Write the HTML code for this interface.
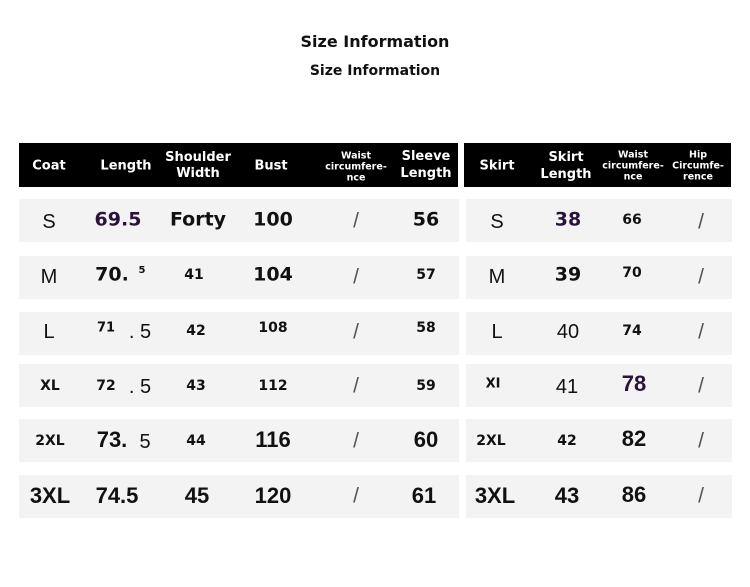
<!DOCTYPE html>
<html><head><meta charset="utf-8"><style>
body{margin:0;width:750px;height:587px;background:#fff;position:relative;overflow:hidden;font-family:"DejaVu Sans","Liberation Sans",sans-serif;}
.t{position:absolute;left:0;width:750px;text-align:center;font-weight:bold;color:#111;}
.hd{position:absolute;background:#000;top:143px;height:44px;}
.rw{position:absolute;background:#f4f3f4;height:43px;}
.c{position:absolute;transform:translate(-50%,-50%);white-space:nowrap;text-align:center;font-weight:bold;color:#111;line-height:1;}
.h{color:#fff;}
.n{font-family:"Liberation Sans Narrow","Liberation Sans",sans-serif;font-weight:normal;}
.s{font-family:"Liberation Sans",sans-serif;font-weight:normal;font-size:21px;color:#555;}
.k{font-family:"Liberation Sans Narrow","Liberation Sans",sans-serif;font-size:22px;}
.p{color:#2a1238;}
</style></head><body>
<div class="t" style="top:32px;font-size:16px">Size Information</div>
<div class="t" style="top:63px;font-size:14px">Size Information</div>
<div class="hd" style="left:19px;width:439px"></div>
<div class="hd" style="left:464px;width:267px"></div>
<div class="rw" style="left:19px;width:440px;top:199px"></div><div class="rw" style="left:466px;width:266px;top:199px"></div>
<div class="rw" style="left:19px;width:440px;top:256px"></div><div class="rw" style="left:466px;width:266px;top:256px"></div>
<div class="rw" style="left:19px;width:440px;top:312px"></div><div class="rw" style="left:466px;width:266px;top:312px"></div>
<div class="rw" style="left:19px;width:440px;top:364px"></div><div class="rw" style="left:466px;width:266px;top:364px"></div>
<div class="rw" style="left:19px;width:440px;top:419px"></div><div class="rw" style="left:466px;width:266px;top:419px"></div>
<div class="rw" style="left:19px;width:440px;top:475px"></div><div class="rw" style="left:466px;width:266px;top:475px"></div>

<div class="c h" style="left:49px;top:166px;font-size:13px">Coat</div>
<div class="c h" style="left:126px;top:166px;font-size:13px">Length</div>
<div class="c h" style="left:198px;top:166px;font-size:13px;line-height:16px">Shoulder<br>Width</div>
<div class="c h" style="left:271px;top:166px;font-size:13px">Bust</div>
<div class="c h" style="left:356px;top:167px;font-size:9.5px;line-height:11px">Waist<br>circumfere-<br>nce</div>
<div class="c h" style="left:426px;top:165px;font-size:13px;line-height:17px">Sleeve<br>Length</div>
<div class="c h" style="left:497px;top:166px;font-size:13px">Skirt</div>
<div class="c h" style="left:566px;top:166px;font-size:13px;line-height:17px">Skirt<br>Length</div>
<div class="c h" style="left:633px;top:166px;font-size:9.5px;line-height:11px">Waist<br>circumfere-<br>nce</div>
<div class="c h" style="left:698px;top:166px;font-size:9.5px;line-height:11px">Hip<br>Circumfe-<br>rence</div>

<!-- S -->
<div class="c n" style="left:49px;top:222px;font-size:20px">S</div>
<div class="c p" style="left:118px;top:220px;font-size:19px">69.5</div>
<div class="c" style="left:198px;top:220px;font-size:19px">Forty</div>
<div class="c" style="left:273px;top:220px;font-size:19px">100</div>
<div class="c s" style="left:356px;top:221px">/</div>
<div class="c" style="left:426px;top:220px;font-size:19px">56</div>
<div class="c n" style="left:497px;top:222px;font-size:20px">S</div>
<div class="c p" style="left:568px;top:220px;font-size:19px">38</div>
<div class="c" style="left:632px;top:220px;font-size:14px">66</div>
<div class="c s" style="left:701px;top:222px">/</div>
<!-- M -->
<div class="c n" style="left:49px;top:277px;font-size:20px">M</div>
<div class="c" style="left:112px;top:275px;font-size:19px">70.</div>
<div class="c" style="left:142px;top:271px;font-size:10px">5</div>
<div class="c" style="left:194px;top:275px;font-size:14px">41</div>
<div class="c" style="left:273px;top:275px;font-size:19px">104</div>
<div class="c s" style="left:356px;top:277px">/</div>
<div class="c" style="left:426px;top:275px;font-size:14px">57</div>
<div class="c n" style="left:497px;top:277px;font-size:20px">M</div>
<div class="c" style="left:568px;top:275px;font-size:19px">39</div>
<div class="c" style="left:632px;top:273px;font-size:14px">70</div>
<div class="c s" style="left:701px;top:277px">/</div>
<!-- L -->
<div class="c n" style="left:49px;top:332px;font-size:20px">L</div>
<div class="c" style="left:106px;top:328px;font-size:13px">71</div>
<div class="c n" style="left:140px;top:332px;font-size:20px">. 5</div>
<div class="c" style="left:196px;top:331px;font-size:14px">42</div>
<div class="c" style="left:273px;top:328px;font-size:14px">108</div>
<div class="c s" style="left:356px;top:332px">/</div>
<div class="c" style="left:426px;top:328px;font-size:14px">58</div>
<div class="c n" style="left:497px;top:332px;font-size:20px">L</div>
<div class="c n" style="left:568px;top:332px;font-size:20px">40</div>
<div class="c" style="left:632px;top:331px;font-size:14px">74</div>
<div class="c s" style="left:701px;top:332px">/</div>
<!-- XL -->
<div class="c" style="left:50px;top:386px;font-size:14px">XL</div>
<div class="c" style="left:106px;top:386px;font-size:14px">72</div>
<div class="c n" style="left:140px;top:387px;font-size:20px">. 5</div>
<div class="c" style="left:196px;top:386px;font-size:14px">43</div>
<div class="c" style="left:273px;top:386px;font-size:14px">112</div>
<div class="c s" style="left:356px;top:386px">/</div>
<div class="c" style="left:426px;top:386px;font-size:14px">59</div>
<div class="c" style="left:493px;top:384px;font-size:13px">XI</div>
<div class="c n" style="left:567px;top:387px;font-size:20px">41</div>
<div class="c p k" style="left:634px;top:384px">78</div>
<div class="c s" style="left:701px;top:386px">/</div>
<!-- 2XL -->
<div class="c" style="left:50px;top:441px;font-size:14px">2XL</div>
<div class="c k" style="left:112px;top:440px">73.</div>
<div class="c n" style="left:145px;top:442px;font-size:20px">5</div>
<div class="c" style="left:196px;top:441px;font-size:14px">44</div>
<div class="c k" style="left:273px;top:440px">116</div>
<div class="c s" style="left:356px;top:441px">/</div>
<div class="c k" style="left:426px;top:440px">60</div>
<div class="c" style="left:491px;top:441px;font-size:14px">2XL</div>
<div class="c" style="left:567px;top:441px;font-size:14px">42</div>
<div class="c k" style="left:634px;top:439px">82</div>
<div class="c s" style="left:701px;top:441px">/</div>
<!-- 3XL -->
<div class="c k" style="left:50px;top:496px">3XL</div>
<div class="c k" style="left:117px;top:496px">74.5</div>
<div class="c k" style="left:197px;top:496px">45</div>
<div class="c k" style="left:273px;top:496px">120</div>
<div class="c s" style="left:356px;top:496px">/</div>
<div class="c k" style="left:424px;top:496px">61</div>
<div class="c k" style="left:495px;top:496px">3XL</div>
<div class="c k" style="left:567px;top:496px">43</div>
<div class="c k" style="left:634px;top:495px">86</div>
<div class="c s" style="left:701px;top:496px">/</div>
</body></html>
